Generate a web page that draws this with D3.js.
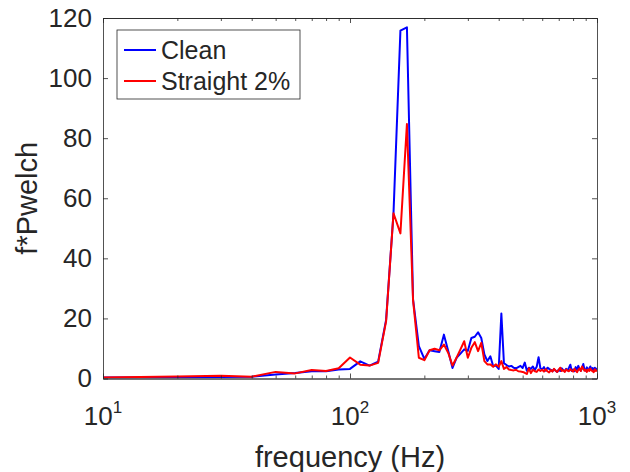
<!DOCTYPE html>
<html>
<head>
<meta charset="utf-8">
<script src="https://cdn.jsdelivr.net/npm/d3@7"></script>
<style>
  body { margin: 0; background: #fff; }
  text { font-family: "Liberation Sans", Arial, Helvetica, sans-serif; fill: #262626; }
</style>
</head>
<body>
<script>
// Tamaño del lienzo y del área de ejes
const WIDTH = 630;
const HEIGHT = 472;
const MARGIN = { top: 18, bottom: 93.5, left: 103, right: 33 };
const WIDTHVIS = WIDTH - MARGIN.left - MARGIN.right;
const HEIGHTVIS = HEIGHT - MARGIN.top - MARGIN.bottom;

// Datos
const frecuencias = [
  10, 20, 30, 40, 50, 60, 70, 80, 90, 100,
  110, 120, 130, 140, 150, 160, 170, 180, 190, 200,
  210, 220, 230, 240, 250, 260, 270, 280, 290, 300,
  310, 320, 330, 340, 350, 360, 370, 380, 390, 400,
  410, 420, 430, 440, 450, 460, 470, 480, 490, 500,
  510, 520, 530, 540, 550, 560, 570, 580, 590, 600,
  610, 620, 630, 640, 650, 660, 670, 680, 690, 700,
  710, 720, 730, 740, 750, 760, 770, 780, 790, 800,
  810, 820, 830, 840, 850, 860, 870, 880, 890, 900,
  910, 920, 930, 940, 950, 960, 970, 980, 990, 1000
];

const clean = [
  0.3, 0.4, 0.5, 0.6, 1.3, 1.8, 2.4, 2.4, 3.0, 3.2,
  5.7, 4.3, 5.6, 19.5, 55, 115.8, 116.9, 26.3, 10.8, 6.5,
  9.4, 9.1, 8.8, 14.6, 9.1, 3.5, 6.9, 8.3, 9.7, 9.2,
  13.5, 13.9, 15.4, 13.5, 8.0, 5.8, 7.4, 4.1, 4.3, 3.2,
  21.6, 5.1, 4.5, 4.0, 4.2, 3.6, 3.4, 3.8, 4.2, 3.5,
  5.3, 2.6, 3.6, 3.2, 4.0, 2.8, 3.9, 7.1, 3.4, 3.0,
  3.8, 2.6, 3.6, 3.2, 2.9, 2.4, 3.1, 2.6, 2.2, 3.0,
  2.5, 3.4, 2.8, 2.4, 3.2, 2.7, 3.6, 4.6, 2.5, 3.0,
  2.4, 3.8, 2.9, 4.2, 3.1, 2.6, 3.4, 4.8, 3.0, 2.6,
  3.7, 2.8, 3.3, 4.0, 2.9, 3.5, 2.7, 3.6, 3.0, 3.4
];

const straight2 = [
  0.3, 0.7, 0.9, 0.6, 2.2, 1.7, 2.8, 2.5, 3.4, 7.0,
  4.6, 4.3, 5.2, 19.0, 55, 48.3, 84.7, 26.1, 6.9, 6.1,
  9.4, 9.9, 9.4, 11.3, 8.5, 4.3, 6.9, 9.7, 12.4, 6.9,
  10.2, 12.1, 9.1, 11.9, 5.8, 4.7, 4.7, 3.9, 4.7, 3.9,
  5.8, 3.2, 3.8, 3.0, 2.8, 2.7, 2.9, 2.4, 2.3, 2.2,
  1.9, 1.5, 3.4, 1.8, 2.9, 2.4, 2.2, 3.0, 2.5, 2.9,
  2.3, 3.1, 2.4, 2.0, 2.8, 2.3, 3.2, 2.6, 2.2, 2.9,
  3.6, 2.5, 2.8, 2.2, 3.0, 2.6, 2.4, 3.1, 2.7, 2.3,
  3.2, 2.6, 2.1, 2.9, 3.4, 2.5, 4.0, 3.3, 2.6, 2.9,
  2.2, 3.0, 2.5, 3.3, 2.7, 2.4, 2.1, 3.1, 2.5, 2.8
];

const series = [
  { nombre: "Clean", valores: clean, color: "#0000ff" },
  { nombre: "Straight 2%", valores: straight2, color: "#ff0000" }
];

const ticksY = [0, 20, 40, 60, 80, 100, 120];
const ticksXMayores = [10, 100, 1000];
const ticksXMenores = [20, 30, 40, 50, 60, 70, 80, 90, 200, 300, 400, 500, 600, 700, 800, 900];
const etiquetasX = ["1", "2", "3"]; // exponentes de 10

const svg = d3.select("body")
  .append("svg")
  .attr("width", WIDTH)
  .attr("height", HEIGHT);

const contenedor = svg.append("g")
  .attr("transform", `translate(${MARGIN.left}, ${MARGIN.top})`);

const escalaX = d3.scaleLog().domain([10, 1000]).range([0, WIDTHVIS]);
const escalaY = d3.scaleLinear().domain([0, 120]).range([HEIGHTVIS, 0]);

// Líneas de datos (recortadas al área de ejes)
contenedor.append("clipPath").attr("id", "recorte")
  .append("rect").attr("width", WIDTHVIS).attr("height", HEIGHTVIS);

const linea = (valores) => d3.line()
  .x((d, i) => escalaX(frecuencias[i]))
  .y((d) => escalaY(d))(valores);

contenedor.append("g").attr("clip-path", "url(#recorte)")
  .selectAll("path")
  .data(series)
  .join("path")
  .attr("d", (d) => linea(d.valores))
  .attr("fill", "none")
  .attr("stroke", (d) => d.color)
  .attr("stroke-width", 2)
  .attr("stroke-linejoin", "round");

// Ejes con ticks hacia adentro (estilo MATLAB)
const COLOR_EJE = "#262626";

const ejeAbajo = contenedor.append("g")
  .attr("transform", `translate(0, ${HEIGHTVIS})`)
  .call(d3.axisBottom(escalaX).tickValues(ticksXMayores).tickSizeInner(-5).tickSizeOuter(0).tickFormat(""));
contenedor.append("g")
  .attr("transform", `translate(0, ${HEIGHTVIS})`)
  .call(d3.axisBottom(escalaX).tickValues(ticksXMenores).tickSizeInner(-3).tickSizeOuter(0).tickFormat(""));
contenedor.append("g")
  .call(d3.axisTop(escalaX).tickValues(ticksXMayores).tickSizeInner(-5).tickSizeOuter(0).tickFormat(""));
contenedor.append("g")
  .call(d3.axisTop(escalaX).tickValues(ticksXMenores).tickSizeInner(-3).tickSizeOuter(0).tickFormat(""));

const ejeIzq = contenedor.append("g")
  .call(d3.axisLeft(escalaY).tickValues(ticksY).tickSizeInner(-5).tickSizeOuter(0).tickPadding(11));
contenedor.append("g")
  .attr("transform", `translate(${WIDTHVIS}, 0)`)
  .call(d3.axisRight(escalaY).tickValues(ticksY).tickSizeInner(-5).tickSizeOuter(0).tickFormat(""));

contenedor.selectAll(".domain, .tick line")
  .attr("stroke", COLOR_EJE)
  .attr("stroke-width", 0.8);

ejeIzq.selectAll("text")
  .attr("font-size", 26)
  .attr("fill", COLOR_EJE)
  .style("font-family", "'Liberation Sans', Arial, sans-serif");

// Etiquetas del eje X como potencias de 10
const etiquetas = contenedor.append("g")
  .selectAll("text")
  .data(ticksXMayores)
  .join("text")
  .attr("x", (d) => escalaX(d))
  .attr("y", HEIGHTVIS + 46.5)
  .attr("text-anchor", "middle")
  .attr("font-size", 26);
etiquetas.append("tspan").text("10");
etiquetas.append("tspan")
  .attr("font-size", 17)
  .attr("dy", -12)
  .text((d, i) => etiquetasX[i]);

// Títulos de los ejes
svg.append("text")
  .attr("x", MARGIN.left + WIDTHVIS / 2)
  .attr("y", 467)
  .attr("text-anchor", "middle")
  .attr("font-size", 29)
  .text("frequency (Hz)");

svg.append("text")
  .attr("transform", `translate(37, ${MARGIN.top + HEIGHTVIS / 2}) rotate(-90)`)
  .attr("text-anchor", "middle")
  .attr("font-size", 29)
  .text("f*Pwelch");

// Leyenda
const leyenda = svg.append("g").attr("transform", "translate(117, 30)");
leyenda.append("rect")
  .attr("width", 183)
  .attr("height", 69)
  .attr("fill", "#fff")
  .attr("stroke", COLOR_EJE)
  .attr("stroke-width", 0.8);

const filas = leyenda.selectAll("g.fila")
  .data(series)
  .join("g")
  .attr("class", "fila")
  .attr("transform", (d, i) => `translate(0, ${20 + i * 31})`);

filas.append("line")
  .attr("x1", 7).attr("x2", 39)
  .attr("stroke", (d) => d.color)
  .attr("stroke-width", 2);

filas.append("text")
  .attr("x", 44)
  .attr("y", 9)
  .attr("font-size", 25)
  .text((d) => d.nombre);
</script>
</body>
</html>
